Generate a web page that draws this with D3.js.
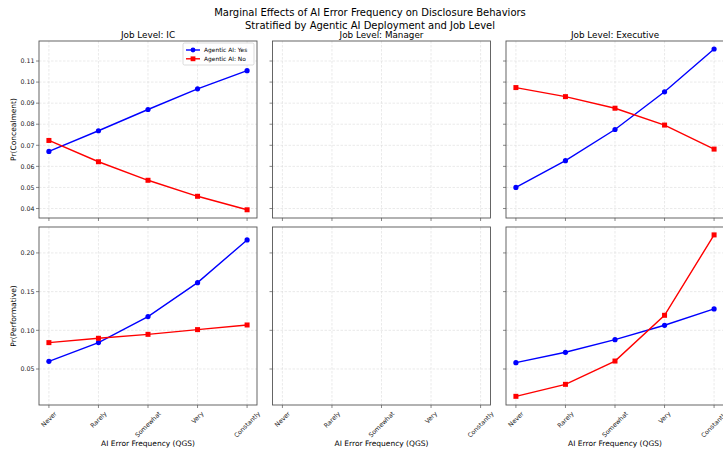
<!DOCTYPE html>
<html>
<head>
<meta charset="utf-8">
<script src="https://cdn.jsdelivr.net/npm/d3@7/dist/d3.min.js"></script>
<style>
  html, body { margin: 0; padding: 0; background: #fff; }
  svg { display: block; font-family: "DejaVu Sans", sans-serif; }
</style>
</head>
<body>
<svg id="chart" width="723" height="454"></svg>
<script>
// ---------- data ----------
const categories = ["Never", "Rarely", "Somewhat", "Very", "Constantly"];
const jobLevels = ["IC", "Manager", "Executive"];

// Pr(Concealment)
const concealIC_Yes = [0.0671, 0.0769, 0.0870, 0.0968, 0.1054];
const concealIC_No = [0.0723, 0.0622, 0.0534, 0.0458, 0.0394];
const concealExec_Yes = [0.0500, 0.0627, 0.0775, 0.0954, 0.1157];
const concealExec_No = [0.0974, 0.0931, 0.0876, 0.0796, 0.0682];

// Pr(Performative)
const perfIC_Yes = [0.0599, 0.0841, 0.1177, 0.1616, 0.2168];
const perfIC_No = [0.0841, 0.0897, 0.0948, 0.1009, 0.1069];
const perfExec_Yes = [0.0582, 0.0716, 0.0879, 0.1065, 0.1276];
const perfExec_No = [0.0147, 0.0302, 0.0603, 0.1194, 0.2233];

const concealTicks = [0.04, 0.05, 0.06, 0.07, 0.08, 0.09, 0.10, 0.11];
const perfTicks = [0.05, 0.10, 0.15, 0.20];

const seriesNames = ["Agentic AI: Yes", "Agentic AI: No"];
const rowLabels = ["Pr(Concealment)", "Pr(Performative)"];
const xLabel = "AI Error Frequency (QGS)";
const titleLines = ["Marginal Effects of AI Error Frequency on Disclosure Behaviors",
                    "Stratified by Agentic AI Deployment and Job Level"];

// ---------- layout ----------
const svg = d3.select("#chart");
const colLeft = [39, 272.5, 506];
const panelW = 218;
const rows = [
  { top: 41, bottom: 218, domain: [0.0355, 0.1195], ticks: concealTicks,
    data: [[concealIC_Yes, concealIC_No], null, [concealExec_Yes, concealExec_No]] },
  { top: 227, bottom: 405, domain: [0.0035, 0.2335], ticks: perfTicks,
    data: [[perfIC_Yes, perfIC_No], null, [perfExec_Yes, perfExec_No]] }
];
const colors = ["#0000ff", "#ff0000"];
const spineColor = "#555";
const gridColor = "#dcdcdc";
const tickFont = 6.3;

// title
svg.append("text").attr("x", 370).attr("y", 16).attr("text-anchor", "middle")
  .attr("font-size", 10).attr("fill", "#000").text(titleLines[0]);
svg.append("text").attr("x", 370).attr("y", 29).attr("text-anchor", "middle")
  .attr("font-size", 10).attr("fill", "#000").text(titleLines[1]);

rows.forEach((row, ri) => {
  const y = d3.scaleLinear().domain(row.domain).range([row.bottom, row.top]);
  colLeft.forEach((x0, ci) => {
    const x = d3.scaleLinear().domain([-0.2, 4.2]).range([x0, x0 + panelW]);
    const g = svg.append("g");
    const clipId = `clip-${ri}-${ci}`;
    svg.append("clipPath").attr("id", clipId).append("rect")
      .attr("x", x0).attr("y", row.top).attr("width", panelW).attr("height", row.bottom - row.top);

    // grid
    const grid = g.append("g").attr("clip-path", `url(#${clipId})`);
    categories.forEach((c, i) => {
      grid.append("line").attr("x1", x(i)).attr("x2", x(i))
        .attr("y1", row.top).attr("y2", row.bottom)
        .attr("stroke", gridColor).attr("stroke-width", 0.6).attr("stroke-dasharray", "2.5,1.5");
    });
    row.ticks.forEach(t => {
      grid.append("line").attr("x1", x0).attr("x2", x0 + panelW)
        .attr("y1", y(t)).attr("y2", y(t))
        .attr("stroke", gridColor).attr("stroke-width", 0.6).attr("stroke-dasharray", "2.5,1.5");
    });

    // series
    const ser = row.data[ci];
    if (ser) {
      const line = d3.line().x((d, i) => x(i)).y(d => y(d));
      ser.forEach((vals, si) => {
        g.append("path").datum(vals).attr("d", line)
          .attr("fill", "none").attr("stroke", colors[si]).attr("stroke-width", 1.4);
        if (si === 0) {
          g.selectAll(null).data(vals).enter().append("circle")
            .attr("cx", (d, i) => x(i)).attr("cy", d => y(d)).attr("r", 2.6)
            .attr("fill", colors[si]);
        } else {
          g.selectAll(null).data(vals).enter().append("rect")
            .attr("x", (d, i) => x(i) - 2.5).attr("y", d => y(d) - 2.5)
            .attr("width", 5).attr("height", 5).attr("fill", colors[si]);
        }
      });
    }

    // frame
    g.append("rect").attr("x", x0).attr("y", row.top).attr("width", panelW)
      .attr("height", row.bottom - row.top).attr("fill", "none")
      .attr("stroke", spineColor).attr("stroke-width", 0.9);

    // y ticks
    row.ticks.forEach(t => {
      g.append("line").attr("x1", x0 - 3).attr("x2", x0).attr("y1", y(t)).attr("y2", y(t))
        .attr("stroke", spineColor).attr("stroke-width", 0.7);
      if (ci === 0) {
        g.append("text").attr("x", x0 - 4.5).attr("y", y(t)).attr("dy", "0.35em")
          .attr("text-anchor", "end").attr("font-size", tickFont).attr("fill", "#222")
          .text(d3.format(".2f")(t));
      }
    });
    // x ticks
    categories.forEach((c, i) => {
      g.append("line").attr("x1", x(i)).attr("x2", x(i)).attr("y1", row.bottom).attr("y2", row.bottom + 3)
        .attr("stroke", spineColor).attr("stroke-width", 0.7);
      if (ri === 1) {
        const t = g.append("text").attr("font-size", tickFont).attr("fill", "#222")
          .attr("text-anchor", "middle").text(c);
        const w = t.node().getComputedTextLength();
        const h = tickFont * 1.15;
        const halfH = (w * Math.SQRT1_2 + h * Math.SQRT1_2) / 2;
        const cy = row.bottom + 5 + halfH;
        t.attr("transform", `translate(${x(i)},${cy}) rotate(-45)`).attr("dy", "0.35em");
      }
    });

    // titles
    if (ri === 0) {
      svg.append("text").attr("x", x0 + panelW / 2).attr("y", 38).attr("text-anchor", "middle")
        .attr("font-size", 8.8).attr("fill", "#000").text("Job Level: " + jobLevels[ci]);
    }
    if (ri === 1) {
      svg.append("text").attr("x", x0 + panelW / 2).attr("y", 446).attr("text-anchor", "middle")
        .attr("font-size", 7.5).attr("fill", "#000").text(xLabel);
    }
    if (ci === 0) {
      const cy = (row.top + row.bottom) / 2;
      svg.append("text").attr("transform", `translate(16,${cy}) rotate(-90)`)
        .attr("text-anchor", "middle").attr("font-size", 7.5).attr("fill", "#000")
        .text(rowLabels[ri]);
    }

    // legend
    if (ri === 0 && ci === 0) {
      const lg = svg.append("g");
      const lx = x0 + panelW - 74, ly = row.top + 2;
      lg.append("rect").attr("x", lx).attr("y", ly).attr("width", 71).attr("height", 22)
        .attr("rx", 1.5).attr("fill", "#fff").attr("fill-opacity", 0.8)
        .attr("stroke", "#ccc").attr("stroke-width", 0.7);
      seriesNames.forEach((name, si) => {
        const yy = ly + 7 + si * 8.8;
        lg.append("line").attr("x1", lx + 3).attr("x2", lx + 17).attr("y1", yy).attr("y2", yy)
          .attr("stroke", colors[si]).attr("stroke-width", 1.4);
        if (si === 0) lg.append("circle").attr("cx", lx + 10).attr("cy", yy).attr("r", 2.4).attr("fill", colors[si]);
        else lg.append("rect").attr("x", lx + 7.6).attr("y", yy - 2.4).attr("width", 4.8).attr("height", 4.8).attr("fill", colors[si]);
        lg.append("text").attr("x", lx + 21).attr("y", yy).attr("dy", "0.35em")
          .attr("font-size", 5.9).attr("fill", "#000").text(name);
      });
    }
  });
});
</script>
</body>
</html>
